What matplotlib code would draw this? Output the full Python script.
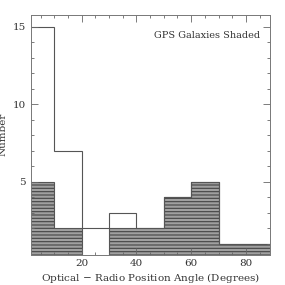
import matplotlib
matplotlib.use("Agg")
import matplotlib.pyplot as plt
from matplotlib.ticker import MultipleLocator
import numpy as np

bin_edges = [0, 10, 20, 30, 40, 50, 60, 70, 80, 90]
all_counts = [15, 7, 2, 3, 2, 4, 5, 1, 1]
gps_counts = [5, 2, 0, 2, 2, 4, 5, 1, 1]

plt.rcParams['hatch.color'] = '#444444'
plt.rcParams['hatch.linewidth'] = 0.8
plt.rcParams['font.family'] = ['DejaVu Serif']

fig = plt.figure(figsize=(2.85, 2.85), dpi=100)
ax = fig.add_axes([31/285, 1-254.5/285, (270-31)/285, (254.5-15)/285])

edges = np.array(bin_edges)
ax.bar(edges[:-1], gps_counts, width=10, align='edge', color='#a0a0a0',
       edgecolor='#444444', hatch='-----', linewidth=0.0)
ax.stairs(gps_counts, edges, color='#555555', linewidth=0.8)
ax.stairs(all_counts, edges, color='#555555', linewidth=0.8)

ax.set_xlim(1.5, 88.8)
ax.set_ylim(0.3, 15.75)
ax.xaxis.set_major_locator(MultipleLocator(20))
ax.xaxis.set_minor_locator(MultipleLocator(5))
ax.yaxis.set_major_locator(MultipleLocator(5))
ax.yaxis.set_minor_locator(MultipleLocator(1))
ax.tick_params(which='both', direction='in', top=True, right=True,
               color='#666666', labelsize=7.5, labelcolor='#333333')
ax.tick_params(which='major', length=5, width=0.6)
ax.tick_params(which='minor', length=2.5, width=0.6)
for s in ax.spines.values():
    s.set_color('#777777')
    s.set_linewidth(0.7)

ax.set_xlabel('Optical $-$ Radio Position Angle (Degrees)', fontsize=7.5,
              color='#333333', labelpad=2)
ax.set_ylabel('Number', fontsize=7.5, color='#333333')
ax.yaxis.set_label_coords(-(31-8)/239, 0.5)
ax.text(0.96, 0.915, 'GPS Galaxies Shaded', transform=ax.transAxes,
        ha='right', va='center', fontsize=7, color='#333333')

fig.savefig('out.png', dpi=100)
